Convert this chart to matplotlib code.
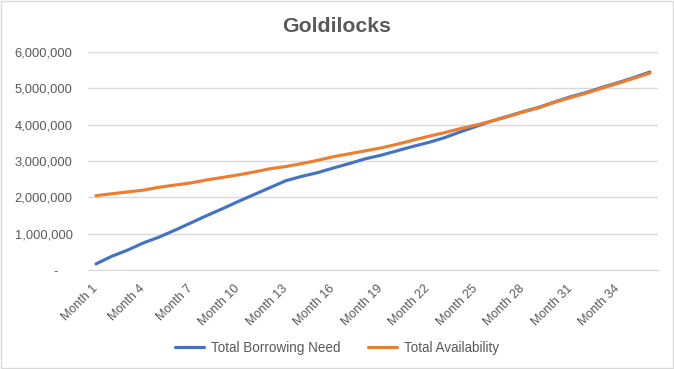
import matplotlib
matplotlib.use('Agg')
import matplotlib.pyplot as plt
from matplotlib.ticker import FuncFormatter, MultipleLocator
from matplotlib.patches import Rectangle

months = [f'Month {i}' for i in range(1, 37)]
borrowing_need = [
    170000, 380000, 550000, 750000, 910000, 1100000, 1300000, 1500000, 1690000,
    1890000, 2080000, 2270000, 2460000, 2580000, 2680000, 2810000, 2930000, 3060000,
    3160000, 3280000, 3400000, 3510000, 3640000, 3800000, 3950000, 4100000, 4230000,
    4360000, 4480000, 4630000, 4770000, 4890000, 5030000, 5160000, 5300000, 5450000,
]
availability = [
    2050000, 2100000, 2150000, 2200000, 2280000, 2340000, 2400000, 2480000, 2550000,
    2620000, 2700000, 2790000, 2850000, 2930000, 3020000, 3120000, 3200000, 3280000,
    3360000, 3460000, 3570000, 3680000, 3780000, 3890000, 3990000, 4100000, 4220000,
    4350000, 4470000, 4620000, 4750000, 4870000, 5010000, 5140000, 5280000, 5420000,
]

plt.rcParams['font.family'] = ['Liberation Sans', 'DejaVu Sans']
grey = '#595959'
grid = '#D9D9D9'

fig = plt.figure(figsize=(6.74, 3.69), dpi=100)
ax = fig.add_axes([0.1306, 0.268, 0.8454, 0.591])

x = range(len(months))
ax.plot(x, borrowing_need, color='#4472C4', lw=2.25, label='Total Borrowing Need',
        solid_capstyle='round')
ax.plot(x, availability, color='#ED7D31', lw=2.25, label='Total Availability',
        solid_capstyle='round')

ax.set_xlim(-0.5, len(months) - 0.5)
ax.set_ylim(0, 6000000)
ax.yaxis.set_major_locator(MultipleLocator(1000000))
# accounting style: zero shown as a dash, pushed left with figure spaces
ax.yaxis.set_major_formatter(
    FuncFormatter(lambda v, p: '-\u2007\u2007' if v == 0 else f'{v:,.0f}'))
ax.set_xticks(list(x)[::3])
ax.set_xticklabels(months[::3], rotation=45, ha='right', va='center',
                   rotation_mode='anchor')

ax.grid(axis='y', color=grid, lw=1)
ax.set_axisbelow(True)
for s in ['top', 'right', 'left']:
    ax.spines[s].set_visible(False)
ax.spines['bottom'].set_color(grid)
ax.tick_params(length=0, colors=grey)
ax.tick_params(axis='y', pad=11, labelsize=9.3)
ax.tick_params(axis='x', pad=12, labelsize=9)

fig.suptitle('Goldilocks', x=0.5, y=0.955, fontsize=15.3, fontweight='bold', color=grey)

fig.legend(loc='center', bbox_to_anchor=(0.5, 0.057), ncol=2, frameon=False,
           fontsize=9.75, labelcolor=grey, handlelength=2.1, handletextpad=0.5,
           columnspacing=2.1)

fig.patches.append(Rectangle((0.001, 0.002), 0.997, 0.995, transform=fig.transFigure,
                             fill=False, edgecolor=grid, lw=1))

fig.savefig('out.png', dpi=100)
